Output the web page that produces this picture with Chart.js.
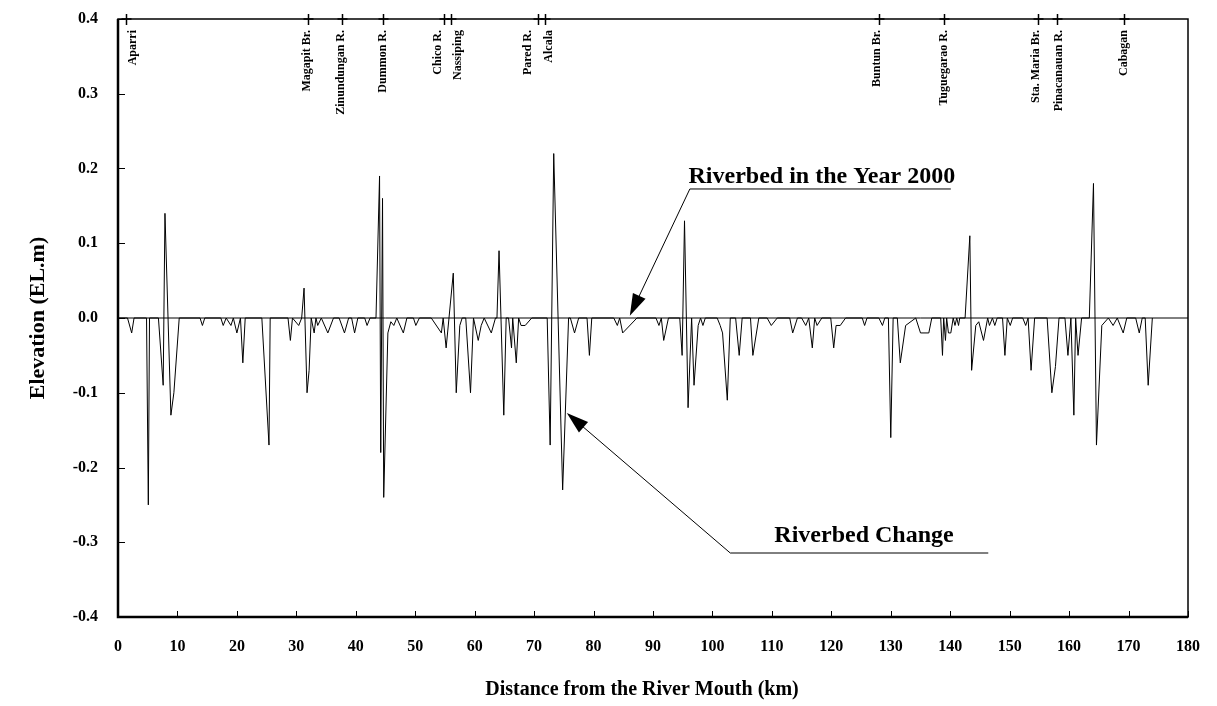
<!DOCTYPE html>
<html>
<head>
<meta charset="utf-8">
<title>Riverbed Change</title>
<script src="https://cdn.jsdelivr.net/npm/chart.js@4.4.1/dist/chart.umd.min.js"></script>
<style>
    html, body { margin: 0; padding: 0; background: #fff; }
    #myChart { display: block; }
</style>
</head>
<body>
<canvas id="myChart" width="1217" height="706"></canvas>
<script>
// distance from the river mouth (km) and change of riverbed elevation (m)
const distanceKm = [
    0, 1.6, 2.3, 2.7, 4.8, 5.1, 5.3, 6.8, 7.6, 7.9, 8.9, 9.4, 10.3, 13.8, 14.2, 14.6,
    17.3, 17.7, 18.2, 19.0, 19.4, 20.0, 20.6, 21.0, 21.4, 24.2, 25.4, 25.6,
    28.6, 29.0, 29.35, 30.4, 30.9, 31.3, 31.8, 32.15, 32.5, 33.0, 33.3, 33.6, 34.2,
    35.3, 36.25, 37.2, 38.1, 38.8, 39.3, 39.8, 40.35, 41.5, 41.9, 42.4, 43.4,
    44.0, 44.2, 44.5, 44.7, 45.4, 45.9, 46.4, 46.9, 48.0, 48.6, 49.7, 50.1, 50.7,
    52.7, 54.4, 54.7, 55.2, 56.4, 56.9, 57.5, 57.9, 58.5, 59.3, 59.8, 60.6, 61.1, 61.6,
    62.8, 63.5, 63.75, 64.1, 64.9, 65.3, 65.7, 66.2, 66.4, 67.0, 67.4, 67.8, 68.5, 69.6,
    72.2, 72.7, 73.3, 74.8, 75.8, 76.1, 76.8, 77.5, 78.9, 79.3, 79.7,
    83.4, 84.0, 84.4, 84.9, 87.3, 90.5, 91.0, 91.4, 91.8, 92.6,
    94.5, 94.9, 95.3, 95.9, 96.5, 96.9, 97.6, 98.0, 98.4, 98.8,
    100.8, 101.3, 101.7, 102.5, 103.0, 103.9, 104.5, 105.0, 106.4, 106.8, 107.8,
    109.2, 109.9, 110.9, 113.0, 113.5, 114.3, 115.0, 115.7, 116.2, 116.8, 117.2, 117.6, 118.4,
    119.9, 120.4, 120.8, 121.5, 122.4, 125.2, 125.6, 126.0,
    128.0, 128.6, 129.0, 129.6, 130.0, 130.4, 131.1, 131.6, 132.5, 134.2, 135.0, 136.4, 136.9,
    138.4, 138.7, 138.9, 139.2, 139.4, 139.7, 140.1, 140.5, 140.8, 141.1, 141.4, 141.6,
    142.5, 143.3, 143.6, 144.3, 144.8, 145.6, 146.3, 146.6, 147.1, 147.5, 147.9,
    148.8, 149.2, 149.6, 150.1, 150.5,
    152.2, 152.7, 153.1, 153.6, 154.2, 156.3, 157.1, 157.7, 158.3,
    159.3, 159.8, 160.3, 160.8, 161.1, 161.5, 162.1, 163.4, 164.1, 164.6, 165.5,
    166.6, 167.4, 168.1, 169.1, 169.7, 171.2, 171.8, 172.3, 172.8, 173.3, 174.0
];
const bedChange = [
    0, 0, -0.02, 0, 0, -0.25, 0, 0, -0.09, 0.14, -0.13, -0.10, 0, 0, -0.01, 0,
    0, -0.01, 0, -0.01, 0, -0.02, 0, -0.06, 0, 0, -0.17, 0,
    0, -0.03, 0, -0.01, 0, 0.04, -0.10, -0.07, 0, -0.02, 0, -0.01, 0,
    -0.02, 0, 0, -0.02, 0, 0, -0.02, 0, 0, -0.01, 0, 0,
    0.19, -0.18, 0.16, -0.24, -0.02, -0.005, -0.01, 0, -0.02, 0, 0, -0.01, 0,
    0, -0.02, 0, -0.04, 0.06, -0.10, -0.01, 0, 0, -0.10, 0, -0.03, -0.01, 0,
    -0.02, 0, 0, 0.09, -0.13, 0, 0, -0.04, 0, -0.06, 0, -0.01, -0.01, 0,
    0, -0.17, 0.22, -0.23, 0, 0, -0.02, 0, 0, -0.05, 0,
    0, -0.01, 0, -0.02, 0, 0, -0.01, 0, -0.03, 0,
    0, -0.05, 0.13, -0.12, 0, -0.09, -0.01, 0, -0.01, 0,
    0, -0.01, -0.02, -0.11, 0, 0, -0.05, 0, 0, -0.05, 0,
    0, -0.01, 0, 0, -0.02, 0, 0, -0.01, 0, -0.04, 0, -0.01, 0,
    0, -0.04, -0.01, -0.01, 0, 0, -0.01, 0,
    0, -0.01, 0, 0, -0.16, 0, 0, -0.06, -0.01, 0, -0.02, -0.02, 0,
    0, -0.05, 0, -0.03, 0, -0.02, -0.02, 0, -0.01, 0, -0.01, 0,
    0, 0.11, -0.07, -0.01, -0.005, -0.03, 0, -0.01, 0, -0.01, 0,
    0, -0.05, 0, -0.01, 0,
    0, -0.01, 0, -0.07, 0, 0, -0.10, -0.065, 0,
    0, -0.05, 0, -0.13, 0, -0.05, 0, 0, 0.18, -0.17, -0.01,
    0, -0.01, 0, -0.02, 0, 0, -0.02, 0, 0, -0.09, 0
];

// stations along the river, marked on the top axis
const stationNames = [
    'Aparri', 'Magapit Br.', 'Zinundungan R.', 'Dummon R.', 'Chico R.', 'Nassiping',
    'Pared R.', 'Alcala', 'Buntun Br.', 'Tuguegarao R.', 'Sta. Maria Br.', 'Pinacanauan R.', 'Cabagan'
];
const stationKm = [1.35, 32.0, 37.7, 44.5, 54.8, 56.0, 70.6, 71.8, 128.1, 138.9, 154.8, 158.0, 169.2];

// label nudges (px) so close names don't overlap
const labelShift = [6, -2, -2, -1, -7, 6, -11, 3, -3, -1, -3, 1, -1];

const serif = '"Liberation Serif", "Times New Roman", serif';

document.addEventListener('DOMContentLoaded', function () {
    const changePoints = distanceKm.map((d, i) => ({ x: d, y: bedChange[i] }));

    // callouts, anchored in axis units (text baseline, underline, arrow tip)
    const notes = [
        { text: 'Riverbed in the Year 2000', tx: 118.4, ty: 0.181, lineY: 0.1726, x0: 96.2, x1: 140.1, tipX: 86.1, tipY: 0.003 },
        { text: 'Riverbed Change', tx: 125.5, ty: -0.2997, lineY: -0.3144, x0: 103.0, x1: 146.4, tipX: 75.5, tipY: -0.127 }
    ];

    function drawArrow(ctx, x0, y0, x1, y1) {
        const ang = Math.atan2(y1 - y0, x1 - x0);
        const len = 22, half = 7;
        ctx.beginPath();
        ctx.moveTo(x0, y0);
        ctx.lineTo(x1 - Math.cos(ang) * len * 0.8, y1 - Math.sin(ang) * len * 0.8);
        ctx.stroke();
        ctx.beginPath();
        ctx.moveTo(x1, y1);
        ctx.lineTo(x1 - Math.cos(ang) * len - Math.sin(ang) * half, y1 - Math.sin(ang) * len + Math.cos(ang) * half);
        ctx.lineTo(x1 - Math.cos(ang) * len + Math.sin(ang) * half, y1 - Math.sin(ang) * len - Math.cos(ang) * half);
        ctx.closePath();
        ctx.fill();
    }

    const frame = {
        id: 'frame',
        afterDraw(chart) {
            const ctx = chart.ctx;
            const { left, right, top, bottom } = chart.chartArea;
            const xs = chart.scales.x, ys = chart.scales.y;
            ctx.save();
            ctx.strokeStyle = '#000';
            ctx.fillStyle = '#000';

            // plot box
            ctx.lineWidth = 1.5;
            ctx.strokeRect(left, top, right - left, bottom - top);
            ctx.lineWidth = 2.5;
            ctx.beginPath();
            ctx.moveTo(left, top);
            ctx.lineTo(left, bottom);
            ctx.lineTo(right, bottom);
            ctx.stroke();

            // inward ticks
            ctx.lineWidth = 1;
            ctx.beginPath();
            ys.ticks.forEach(t => {
                const y = Math.round(ys.getPixelForValue(t.value)) + 0.5;
                ctx.moveTo(left, y);
                ctx.lineTo(left + 7, y);
            });
            xs.ticks.forEach(t => {
                const x = Math.round(xs.getPixelForValue(t.value)) + 0.5;
                ctx.moveTo(x, bottom);
                ctx.lineTo(x, bottom - 6);
            });
            ctx.stroke();

            // station marks and names
            ctx.lineWidth = 1.5;
            ctx.font = 'bold 12px ' + serif;
            ctx.textAlign = 'right';
            ctx.textBaseline = 'middle';
            stationKm.forEach((km, i) => {
                const x = Math.round(xs.getPixelForValue(km)) + 0.5;
                ctx.beginPath();
                ctx.moveTo(x, top - 5);
                ctx.lineTo(x, top + 6);
                ctx.moveTo(x - 5, top);
                ctx.lineTo(x + 5, top);
                ctx.stroke();
                ctx.save();
                ctx.translate(x + labelShift[i], top + 11);
                ctx.rotate(-Math.PI / 2);
                ctx.fillText(stationNames[i], 0, 0);
                ctx.restore();
            });

            // callouts
            ctx.lineWidth = 1;
            ctx.font = 'bold 24px ' + serif;
            ctx.textAlign = 'center';
            ctx.textBaseline = 'alphabetic';
            notes.forEach(n => {
                const ly = ys.getPixelForValue(n.lineY);
                const x0 = xs.getPixelForValue(n.x0), x1 = xs.getPixelForValue(n.x1);
                ctx.fillText(n.text, xs.getPixelForValue(n.tx), ys.getPixelForValue(n.ty));
                ctx.beginPath();
                ctx.moveTo(x0, ly);
                ctx.lineTo(x1, ly);
                ctx.stroke();
                drawArrow(ctx, x0, ly, xs.getPixelForValue(n.tipX), ys.getPixelForValue(n.tipY));
            });

            // axis titles
            ctx.textBaseline = 'middle';
            ctx.font = 'bold 20px ' + serif;
            ctx.fillText('Distance from the River Mouth (km)', (left + right) / 2 - 11, 690);
            ctx.font = 'bold 22px ' + serif;
            ctx.translate(38, (top + bottom) / 2);
            ctx.rotate(-Math.PI / 2);
            ctx.fillText('Elevation (EL.m)', 0, 0);
            ctx.restore();
        }
    };

    // tick marks are drawn inward by the plugin; the library's own ticks only
    // reserve the gap between axis and labels
    const hiddenTicks = {
        display: true,
        drawOnChartArea: false,
        drawTicks: true,
        tickLength: 20,
        tickColor: 'rgba(0,0,0,0)',
        color: 'rgba(0,0,0,0)'
    };

    new Chart(document.getElementById('myChart'), {
        type: 'scatter',
        data: {
            datasets: [{
                label: 'Riverbed in the Year 2000',
                data: [{ x: 0, y: 0 }, { x: 180, y: 0 }],
                showLine: true,
                borderColor: '#000',
                borderWidth: 1,
                pointRadius: 0
            }, {
                label: 'Riverbed Change',
                data: changePoints,
                showLine: true,
                borderColor: '#000',
                borderWidth: 1,
                pointRadius: 0,
                tension: 0
            }]
        },
        options: {
            responsive: false,
            animation: false,
            devicePixelRatio: 1,
            layout: { padding: { top: 19, right: 29, left: 0, bottom: 0 } },
            plugins: { legend: { display: false }, tooltip: { enabled: false } },
            scales: {
                x: {
                    type: 'linear',
                    min: 0,
                    max: 180,
                    afterFit(scale) { scale.height = 89; },
                    grid: hiddenTicks,
                    border: { display: false },
                    ticks: {
                        stepSize: 10,
                        autoSkip: false,
                        maxRotation: 0,
                        padding: 0,
                        color: '#000',
                        font: { family: serif, size: 16, weight: 'bold' }
                    }
                },
                y: {
                    min: -0.4,
                    max: 0.4,
                    afterFit(scale) { scale.width = 118; },
                    grid: hiddenTicks,
                    border: { display: false },
                    ticks: {
                        stepSize: 0.1,
                        padding: 0,
                        color: '#000',
                        font: { family: serif, size: 16, weight: 'bold' },
                        callback: v => v.toFixed(1)
                    }
                }
            }
        },
        plugins: [frame]
    });
});
</script>
</body>
</html>
